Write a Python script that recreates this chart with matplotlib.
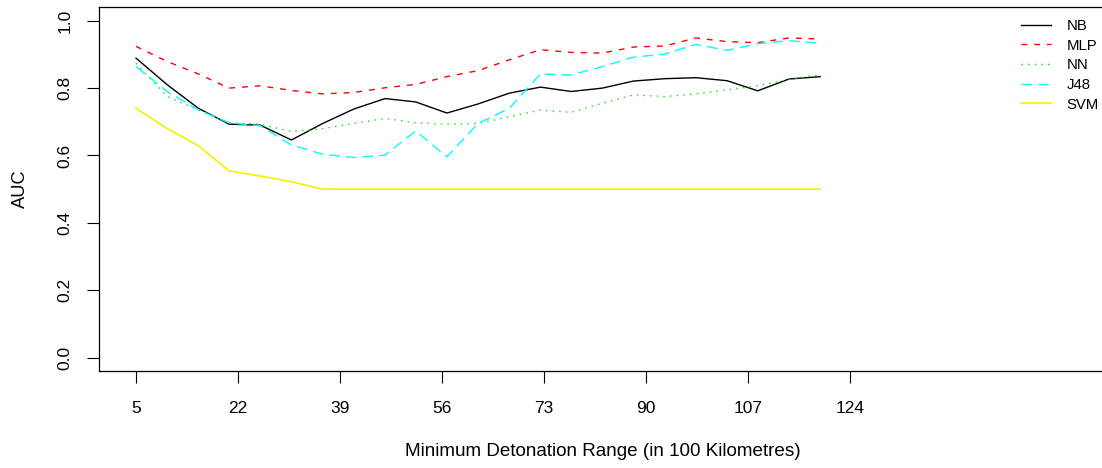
import numpy as np
import matplotlib
matplotlib.use('Agg')
import matplotlib.pyplot as plt

plt.rcParams['font.family'] = ['Liberation Sans', 'DejaVu Sans']

# detonation range (in 100 km)
ranges = [5, 10.2, 15.4, 20.5, 25.7, 30.9, 36.1, 41.3, 46.5, 51.6, 56.8, 62.0,
          67.2, 72.4, 77.5, 82.7, 87.9, 93.1, 98.3, 103.5, 108.6, 113.8, 119]

auc_nb = [0.889, 0.810, 0.740, 0.693, 0.690, 0.646, 0.695, 0.738, 0.769, 0.759, 0.726, 0.753,
          0.785, 0.803, 0.790, 0.800, 0.821, 0.828, 0.831, 0.822, 0.792, 0.827, 0.834]
auc_mlp = [0.924, 0.879, 0.842, 0.800, 0.807, 0.793, 0.783, 0.787, 0.801, 0.811, 0.834, 0.852,
           0.884, 0.914, 0.906, 0.904, 0.922, 0.925, 0.949, 0.938, 0.935, 0.949, 0.946]
auc_nn = [0.874, 0.775, 0.735, 0.697, 0.693, 0.671, 0.680, 0.695, 0.710, 0.697, 0.693, 0.695,
          0.715, 0.735, 0.728, 0.755, 0.780, 0.775, 0.783, 0.795, 0.807, 0.826, 0.840]
auc_j48 = [0.864, 0.790, 0.735, 0.697, 0.688, 0.631, 0.604, 0.594, 0.601, 0.673, 0.596, 0.695,
           0.740, 0.842, 0.839, 0.864, 0.892, 0.901, 0.930, 0.912, 0.932, 0.941, 0.933]
auc_svm = [0.740, 0.680, 0.629, 0.554, 0.539, 0.522, 0.5, 0.5, 0.5, 0.5, 0.5, 0.5,
           0.5, 0.5, 0.5, 0.5, 0.5, 0.5, 0.5, 0.5, 0.5, 0.5, 0.5]

xticks = [5, 22, 39, 56, 73, 90, 107, 124]
yticks = [0.0, 0.2, 0.4, 0.6, 0.8, 1.0]

W, H = 1102, 468
fig = plt.figure(figsize=(W / 100, H / 100), dpi=100)
# right edge of the box sits outside the picture, as in the original
ax = fig.add_axes([99 / W, 1 - 371 / H, (1110 - 99) / W, (371 - 7.3) / H])

ax.plot(ranges, auc_nb, color='black', lw=1.0, label='NB')
ax.plot(ranges, auc_mlp, color='#ff0000', lw=1.0, dashes=(4.2, 5.0), label='MLP')
ax.plot(ranges, auc_nn, color='#22dd22', lw=1.0, dashes=(1.1, 3.7), label='NN')
ax.plot(ranges, auc_j48, color='#00ffff', lw=1.0, dashes=(7.7, 4.3), label='J48')
ax.plot(ranges, auc_svm, color='#f4f000', lw=1.2, label='SVM')

ax.set_xlim(-1.17, 167.3)
ax.set_ylim(-0.04, 1.04)
ax.set_xticks(xticks)
ax.set_xticklabels([str(t) for t in xticks])
ax.set_yticks(yticks)
ax.set_yticklabels(['%.1f' % t for t in yticks])
ax.tick_params(axis='both', direction='out', length=8.5, width=0.8, labelsize=12.5)
ax.tick_params(axis='x', pad=13)
ax.tick_params(axis='y', pad=10.5, labelrotation=90)
for lbl in ax.get_yticklabels():
    lbl.set_va('center')
for s in ax.spines.values():
    s.set_linewidth(0.9)
ax.spines['right'].set_visible(False)

fig.text(20 / W, 1 - 189 / H, 'AUC', rotation=90, ha='center', va='center', fontsize=13.2)
fig.text(603 / W, 1 - 451 / H, 'Minimum Detonation Range (in 100 Kilometres)',
         ha='center', va='center', fontsize=13.6)

leg = ax.legend(loc='upper left', bbox_to_anchor=(1021 / W, 1 - 19 / H),
                bbox_transform=fig.transFigure, frameon=False, fontsize=10.7,
                handlelength=2.05, handletextpad=1.0, labelspacing=0.38,
                borderpad=0, borderaxespad=0)

fig.savefig('out.png', dpi=100)
